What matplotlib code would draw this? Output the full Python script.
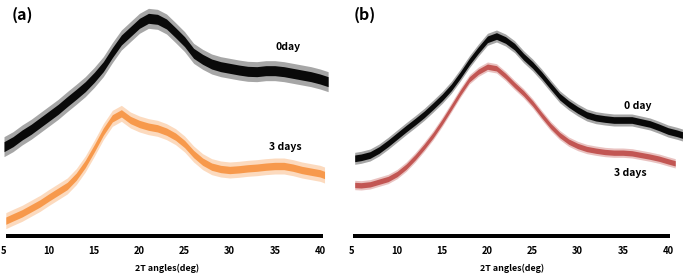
import matplotlib
matplotlib.use("Agg")
import matplotlib.pyplot as plt
from matplotlib.patches import Rectangle
import numpy as np

plt.rcParams['font.family'] = ['Noto Sans CJK KR', 'DejaVu Sans']

# ---- data ----
x_a0 = [5] + list(range(6, 41)) + [40.9]
a_0day = [310, 325, 345, 362, 382, 402, 422, 445, 467, 490, 518, 550, 592, 630, 655, 680,
          695, 692, 678, 652, 625, 590, 572, 558, 550, 545, 540, 536, 535, 538, 538, 535,
          530, 525, 520, 513, 505]
# noise half-widths: (dense core, spikes)
a_0day_noise = (15, 30)

x_a3 = [5.2] + list(range(6, 41)) + [40.5]
a_3days = [88, 98, 110, 125, 140, 158, 175, 192, 220, 258, 305, 355, 395, 410, 390, 378,
           370, 365, 355, 340, 318, 288, 265, 250, 243, 240, 242, 245, 247, 250, 252, 252,
           247, 240, 235, 230, 225]
a_3days_noise = (11, 24)

x_b0 = [5.3] + list(range(6, 42)) + [41.6]
b_0day = [275, 278, 285, 300, 320, 342, 364, 385, 407, 432, 458, 488, 525, 565, 600, 632,
          642, 630, 610, 580, 555, 525, 492, 460, 438, 420, 405, 397, 393, 390, 390, 390,
          384, 378, 368, 357, 350, 345]
b_0day_noise = (10, 18)

x_b3 = [5.3] + list(range(6, 41)) + [40.8]
b_3days = [195, 194, 197, 205, 213, 228, 250, 278, 310, 345, 385, 428, 472, 512, 535, 550,
           545, 522, 495, 470, 440, 405, 372, 345, 325, 312, 303, 298, 294, 292, 292, 290,
           285, 280, 274, 266, 260]
b_3days_noise = (8, 14)

tick_vals = [5, 10, 15, 20, 25, 30, 35, 40]
xlabel = "2T angles(deg)"

W, H = 685, 275
fig = plt.figure(figsize=(W / 100, H / 100), dpi=100)

def make_ax(left_px, width_px, xlim, bounds):
    ax = fig.add_axes([left_px / W, 30 / H, width_px / W, 245 / H])
    ax.set_xlim(*xlim)
    ax.set_ylim(15, 750)
    for s in ax.spines.values():
        s.set_visible(False)
    ax.set_yticks([])
    ax.set_xticks(tick_vals)
    ax.set_xticklabels([str(v) for v in tick_vals], fontsize=6.8, fontweight='bold')
    ax.tick_params(axis='x', length=0, pad=0.5)
    ax.set_xlabel(xlabel, fontsize=6.4, fontweight='bold', labelpad=6)
    ax.patch.set_alpha(0)
    # thick black axis bar
    x0, x1 = bounds
    ax.add_patch(Rectangle((x0, 36), x1 - x0, 12, facecolor='black',
                           edgecolor='none', zorder=5, clip_on=False))
    return ax

def band(ax, x, y, noise, color):
    y = np.asarray(y, dtype=float)
    core, spike = noise
    ax.fill_between(x, y - spike, y + spike, color=color, lw=0, alpha=0.35)
    ax.fill_between(x, y - core, y + core, color=color, lw=0, alpha=0.95)

ax1 = make_ax(0, 335, (4.557, 41.66), (5.2, 40.3))
band(ax1, x_a0, a_0day, a_0day_noise, '#000000')
band(ax1, x_a3, a_3days, a_3days_noise, '#F79646')

ax2 = make_ax(340, 345, (3.67, 41.88), (5.1, 40.2))
band(ax2, x_b0, b_0day, b_0day_noise, '#000000')
band(ax2, x_b3, b_3days, b_3days_noise, '#C0504D')

def ftext(px, py, s, size):
    fig.text(px / W, 1 - py / H, s, fontsize=size, fontweight='bold',
             ha='center', va='center')

ftext(22, 15, "(a)", 11.5)
ftext(365, 15, "(b)", 11.5)
ftext(288, 47, "0day", 7.5)
ftext(285, 147, "3 days", 7.5)
ftext(638, 106, "0 day", 7.5)
ftext(630, 173, "3 days", 7.5)

fig.savefig("out.png", dpi=100)
